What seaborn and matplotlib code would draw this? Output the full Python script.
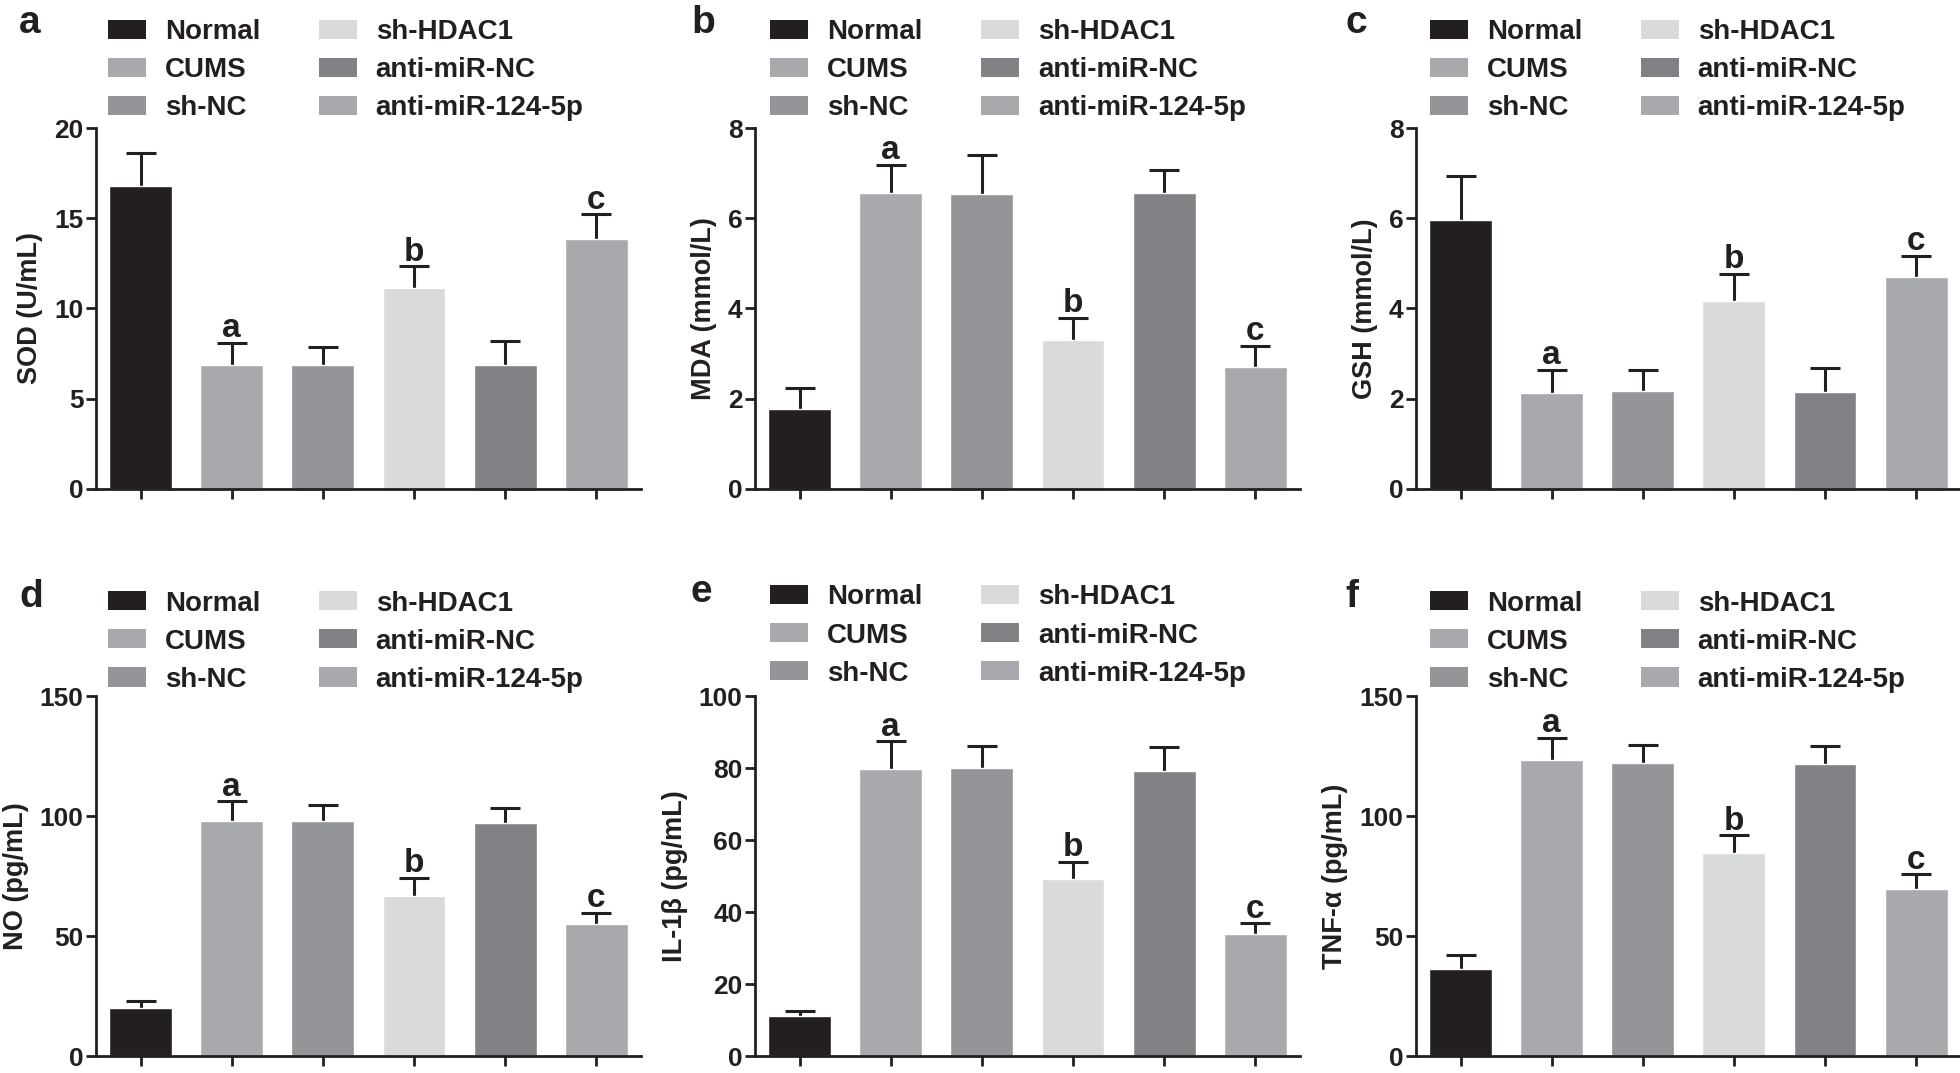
import numpy as np
import pandas as pd
import matplotlib
matplotlib.use("Agg")
import matplotlib.pyplot as plt
from matplotlib.patches import Patch
import seaborn as sns

# groups and colours
groups = ["Normal", "CUMS", "sh-NC", "sh-HDAC1", "anti-miR-NC", "anti-miR-124-5p"]
colors = ["#231f20", "#a7a9ac", "#939598", "#d9dadb", "#808285", "#a7a9ac"]

# values (mean, upper error)
sod_mean = [16.8, 6.85, 6.88, 11.16, 6.85, 13.84]
sod_err = [1.8, 1.25, 0.98, 1.18, 1.33, 1.37]
mda_mean = [1.78, 6.55, 6.53, 3.31, 6.57, 2.71]
mda_err = [0.45, 0.63, 0.87, 0.49, 0.51, 0.46]
gsh_mean = [5.97, 2.13, 2.17, 4.17, 2.15, 4.69]
gsh_err = [0.96, 0.51, 0.46, 0.60, 0.54, 0.48]
no_mean = [20.1, 98.1, 97.8, 66.6, 97.1, 55.2]
no_err = [3.0, 8.1, 6.7, 7.6, 6.3, 4.6]
il1b_mean = [11.0, 79.8, 80.1, 49.2, 79.1, 33.8]
il1b_err = [1.4, 7.6, 5.9, 4.7, 6.7, 3.1]
tnfa_mean = [36.4, 123.2, 121.9, 84.8, 121.7, 69.5]
tnfa_err = [5.7, 9.4, 7.7, 7.1, 7.5, 6.2]

sig_letters = ["", "a", "", "b", "", "c"]

panels = [
    ("a", "SOD (U/mL)", sod_mean, sod_err, [0, 5, 10, 15, 20]),
    ("b", "MDA (mmol/L)", mda_mean, mda_err, [0, 2, 4, 6, 8]),
    ("c", "GSH (mmol/L)", gsh_mean, gsh_err, [0, 2, 4, 6, 8]),
    ("d", "NO (pg/mL)", no_mean, no_err, [0, 50, 100, 150]),
    ("e", "IL-1β (pg/mL)", il1b_mean, il1b_err, [0, 20, 40, 60, 80, 100]),
    ("f", "TNF-α (pg/mL)", tnfa_mean, tnfa_err, [0, 50, 100, 150]),
]

sns.set_style("ticks")
plt.rcParams['font.family'] = ['Liberation Sans', 'DejaVu Sans']
plt.rcParams['font.weight'] = 'bold'
ink = "#231f20"

fig = plt.figure(figsize=(19.6, 10.73), dpi=100)

# layout (figure fractions)
lefts = [0.0490, 0.3852, 0.7224]
width = 0.278
bottoms = [0.5443, 0.0158]
heights = [0.3364, 0.3355]
leg_x = [0.022, 0.028, 0.026]
leg_y = [1.302, 1.302, 1.302, 1.293, 1.31, 1.293]
letter_pos = [(0.0150, 0.9692), (0.3587, 0.9692), (0.6918, 0.9692),
              (0.0160, 0.4343), (0.3577, 0.4390), (0.6898, 0.4343)]

for i, (letter, ylabel, mean, err, yticks) in enumerate(panels):
    row, col = divmod(i, 3)
    ax = fig.add_axes([lefts[col], bottoms[row], width, heights[row]])
    df = pd.DataFrame({"group": groups, "value": mean})
    sns.barplot(data=df, x="group", y="value", hue="group", order=groups,
                palette=colors, saturation=1, width=0.69, errorbar=None,
                legend=False, ax=ax, zorder=2)
    pos = np.arange(len(groups))
    # symmetric bars drawn behind the bars, so only the upper half shows
    ax.errorbar(pos, mean, yerr=err, fmt="none", ecolor=ink,
                elinewidth=2.2, capsize=11, capthick=2.2, zorder=1)
    for x, m, e, s in zip(pos, mean, err, sig_letters):
        if s:
            ax.annotate(s, (x, m + e), xytext=(0, 4), textcoords="offset points",
                        ha="center", va="baseline", fontsize=24, fontweight="bold",
                        color=ink)
    ax.set_xlim(-0.49, 5.49)
    ax.set_ylim(0, yticks[-1])
    ax.set_yticks(yticks)
    ax.set_xticks(pos)
    ax.set_xticklabels([])
    ax.set_xlabel("")
    ax.set_ylabel(ylabel, fontsize=19.5, fontweight="bold", color=ink, labelpad=8)
    sns.despine(ax=ax)
    for sp in ["left", "bottom"]:
        ax.spines[sp].set_linewidth(2.0)
        ax.spines[sp].set_color(ink)
        ax.spines[sp].set_zorder(3)
    ax.tick_params(axis="both", length=7.5, width=2.0, color=ink, direction="out")
    ax.tick_params(axis="y", labelsize=19, pad=1.5, labelcolor=ink)
    for t in ax.get_yticklabels():
        t.set_fontweight("bold")

    handles = [Patch(facecolor=c, edgecolor="none", label=g) for g, c in zip(groups, colors)]
    ax.legend(handles=handles, ncol=2, loc="upper left",
              bbox_to_anchor=(leg_x[col], leg_y[i]), frameon=False,
              handlelength=1.37, handleheight=0.68,
              handletextpad=0.68, labelspacing=0.435, columnspacing=2.1,
              borderpad=0, borderaxespad=0,
              prop={"weight": "bold", "size": 20})
    for t in ax.get_legend().get_texts():
        t.set_color(ink)

    fig.text(letter_pos[i][0], letter_pos[i][1], letter, fontsize=28,
             fontweight="bold", color=ink, ha="center", va="baseline")

fig.savefig("out.png", dpi=100)
